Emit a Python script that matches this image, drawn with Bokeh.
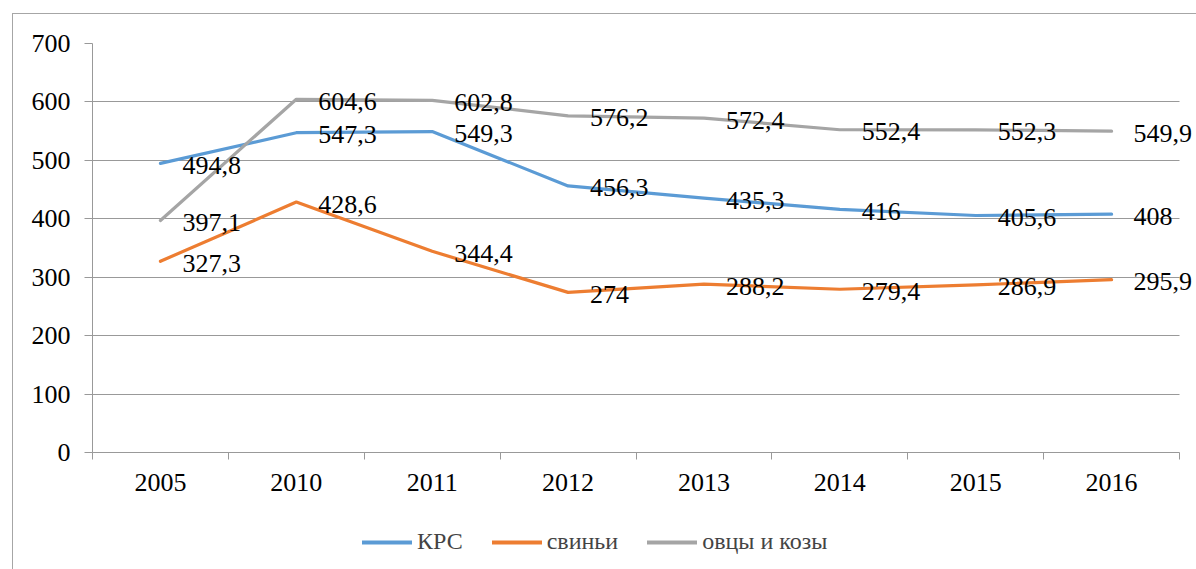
from bokeh.plotting import figure
from bokeh.layouts import column
from bokeh.models import ColumnDataSource, FixedTicker, LabelSet, Legend, LegendItem, Range1d
from bokeh.embed import file_html
from bokeh.resources import INLINE

years = ["2005", "2010", "2011", "2012", "2013", "2014", "2015", "2016"]
krs = [494.8, 547.3, 549.3, 456.3, 435.3, 416, 405.6, 408]
pigs = [327.3, 428.6, 344.4, 274, 288.2, 279.4, 286.9, 295.9]
sheep = [397.1, 604.6, 602.8, 576.2, 572.4, 552.4, 552.3, 549.9]
y_ticks = [0, 100, 200, 300, 400, 500, 600, 700]
series_names = ["КРС", "свиньи", "овцы и козы"]
colors = ["#5B9BD5", "#ED7D31", "#A5A5A5"]

FONT = "'Liberation Serif', 'Times New Roman', serif"
FS = "26px"
GRID = "#999999"

n = len(years)
x = [i + 0.5 for i in range(n)]
series = [krs, pigs, sheep]


def fmt(v):
    return f"{v:g}".replace(".", ",")


# main chart: frame extends right of the last category so labels are not clipped
p = figure(width=1183, height=510, output_backend="svg", toolbar_location=None,
           x_range=Range1d(0, n + 0.125), y_range=Range1d(0, 700),
           min_border_left=79, min_border_right=0, min_border_top=29, min_border_bottom=72)
p.outline_line_color = None
p.background_fill_color = "white"
p.border_fill_color = "white"

p.xaxis.ticker = FixedTicker(ticks=x, minor_ticks=list(range(n + 1)))
p.xaxis.major_label_overrides = {xx: yr for xx, yr in zip(x, years)}
p.xaxis.bounds = (0, n)
p.xaxis.major_tick_out = 0
p.xaxis.major_tick_in = 0
p.xaxis.minor_tick_out = 7
p.xaxis.minor_tick_in = 0
p.xaxis.minor_tick_line_color = GRID
p.xaxis.axis_line_color = GRID
p.xaxis.major_label_standoff = 14

p.yaxis.ticker = FixedTicker(ticks=y_ticks, minor_ticks=[])
p.yaxis.major_tick_out = 8
p.yaxis.major_tick_in = 0
p.yaxis.major_tick_line_color = GRID
p.yaxis.axis_line_color = GRID
p.yaxis.major_label_standoff = 14

for ax in (p.xaxis, p.yaxis):
    ax.major_label_text_font = FONT
    ax.major_label_text_font_size = FS
    ax.major_label_text_color = "black"

p.xgrid.visible = False
yg = p.ygrid[0]
yg.grid_line_color = GRID
yg.ticker = FixedTicker(ticks=y_ticks)
try:
    yg.cross_bounds = (0, n)
except Exception:
    pass

for vals, col in zip(series, colors):
    src = ColumnDataSource(dict(x=x, y=vals))
    p.line("x", "y", source=src, line_color=col, line_width=3.2,
           line_join="round", line_cap="round")

for vals in series:
    src = ColumnDataSource(dict(x=x, y=vals, t=[fmt(v) for v in vals]))
    p.add_layout(LabelSet(x="x", y="y", text="t", source=src, x_offset=22, y_offset=-2,
                          text_baseline="middle", text_align="left",
                          text_font=FONT, text_font_size=FS, text_color="black"))

# legend strip below the chart (its series lines fall outside this strip's range)
q = figure(width=1183, height=45, output_backend="svg", toolbar_location=None,
           x_range=Range1d(0, n), y_range=Range1d(-2, -1),
           min_border_left=0, min_border_right=0, min_border_top=0, min_border_bottom=0)
q.axis.visible = False
q.grid.visible = False
q.outline_line_color = None
q.background_fill_color = "white"
q.border_fill_color = "white"

items = []
for name, vals, col in zip(series_names, series, colors):
    r = q.line(x=x, y=vals, line_color=col, line_width=4, line_cap="round")
    items.append(LegendItem(label=name, renderers=[r]))

legend = Legend(items=items, orientation="horizontal", location=(270, 14),
                padding=0, margin=0, spacing=29, label_standoff=5,
                glyph_width=50, glyph_height=20, label_height=20,
                border_line_color=None, background_fill_alpha=0,
                label_text_font=FONT, label_text_font_size="24px",
                label_text_baseline="middle")
q.add_layout(legend, "center")

root = column(p, q, spacing=0)
root.styles = {"margin-left": "12px", "margin-top": "13px",
               "border-left": "1px solid #a6a6a6", "border-top": "1px solid #a6a6a6"}

open("out.html", "w").write(file_html(root, INLINE))
